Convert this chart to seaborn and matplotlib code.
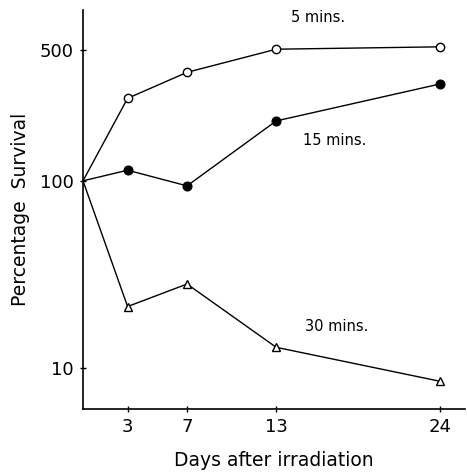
import matplotlib
matplotlib.use("Agg")
import matplotlib.pyplot as plt
import seaborn as sns
import pandas as pd
from matplotlib.ticker import FixedLocator, NullLocator, FixedFormatter

days = [0, 3, 7, 13, 24]
surv_5 = [100, 276, 380, 505, 520]
surv_15 = [100, 114, 94, 209, 329]
surv_30 = [100, 21.3, 28.1, 12.9, 8.5]
xticks = [3, 7, 13, 24]
yticks = [10, 100, 500]
ytick_labels = ["10", "100", "500"]
series_labels = ["5 mins.", "15 mins.", "30 mins."]

sns.set_theme(style="ticks")
plt.rcParams["font.family"] = ["DejaVu Sans"]
plt.rcParams["text.color"] = "black"
plt.rcParams["axes.labelcolor"] = "black"

fig = plt.figure(figsize=(4.67, 4.73), dpi=100)
ax = fig.add_axes([83/467, 1-409/473, (465-83)/467, (409-10)/473])

df5 = pd.DataFrame({"day": days, "s": surv_5})
df15 = pd.DataFrame({"day": days, "s": surv_15})
df30 = pd.DataFrame({"day": days, "s": surv_30})

sns.lineplot(data=df5, x="day", y="s", ax=ax, color="black", lw=1.0,
             marker="o", markersize=6, markerfacecolor="white",
             markeredgecolor="black", markeredgewidth=1.0, markevery=[1, 2, 3, 4])
sns.lineplot(data=df15, x="day", y="s", ax=ax, color="black", lw=1.0,
             marker="o", markersize=6.5, markerfacecolor="black",
             markeredgecolor="black", markevery=[1, 2, 3, 4])
sns.lineplot(data=df30, x="day", y="s", ax=ax, color="black", lw=1.0,
             marker="^", markersize=6, markerfacecolor="white",
             markeredgecolor="black", markeredgewidth=1.0, markevery=[1, 2, 3, 4])

ax.set_yscale("log")
ax.set_xlim(0, 25.7)
ax.set_ylim(6.04, 818)
ax.xaxis.set_major_locator(FixedLocator(xticks))
ax.xaxis.set_minor_locator(NullLocator())
ax.yaxis.set_major_locator(FixedLocator(yticks))
ax.yaxis.set_major_formatter(FixedFormatter(ytick_labels))
ax.yaxis.set_minor_locator(NullLocator())
ax.set_xticklabels([str(t) for t in xticks])

for s in ["top", "right"]:
    ax.spines[s].set_visible(False)
for s in ["left", "bottom"]:
    ax.spines[s].set_linewidth(1.2)
    ax.spines[s].set_color("black")

ax.tick_params(axis="both", direction="inout", length=5, width=1, colors="black",
               labelcolor="black", labelsize=13, pad=4)

ax.set_xlabel("Days after irradiation", fontsize=13.5, labelpad=11, color="black")
ax.set_ylabel("Percentage  Survival", fontsize=13.5, labelpad=7, color="black")

ax.text(15.8, 750, series_labels[0], fontsize=10.5, ha="center", va="center", color="black")
ax.text(16.9, 165, series_labels[1], fontsize=10.5, ha="center", va="center", color="black")
ax.text(17.1, 16.6, series_labels[2], fontsize=10.5, ha="center", va="center", color="black")

fig.savefig("out.png", dpi=100)
